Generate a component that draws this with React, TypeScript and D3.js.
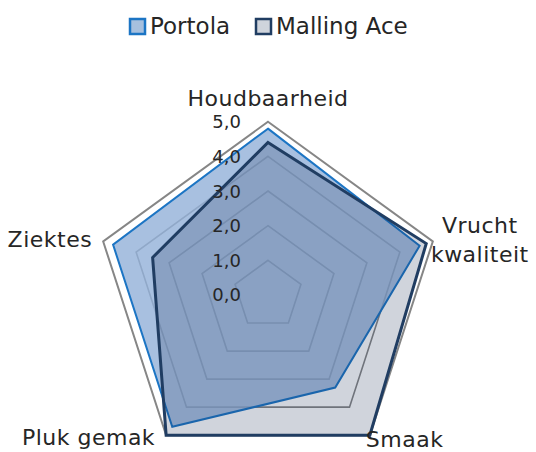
import { useEffect, useRef } from 'react';
import * as d3 from 'd3';

// categories (axes) clockwise from the top
const categories = ['Houdbaarheid', 'Vrucht kwaliteit', 'Smaak', 'Pluk gemak', 'Ziektes'];
const portola = [4.8, 4.6, 3.3, 4.7, 4.7];
const mallingAce = [4.4, 4.8, 5.0, 5.0, 3.5];
const tickValues = [0, 1, 2, 3, 4, 5];
const seriesNames = ['Portola', 'Malling Ace'];

const FONT = '"DejaVu Sans", sans-serif';

export default function App() {
  const ref = useRef<SVGSVGElement>(null);
  const width = 536;
  const height = 452;

  useEffect(() => {
    if (!ref.current) return;
    const svg = d3.select(ref.current);
    svg.selectAll('*').remove();

    const cx = 268;
    const cy = 295;
    const r = d3.scaleLinear().domain([0, 5]).range([0, 173.3]);
    const n = categories.length;
    const angle = (i: number) => (i * 2 * Math.PI) / n;
    const pt = (i: number, v: number) => [cx + r(v) * Math.sin(angle(i)), cy - r(v) * Math.cos(angle(i))];

    const g = svg.append('g').attr('transform', `translate(${cx},${cy})`);

    const radial = d3
      .lineRadial<number>()
      .angle((_, i) => angle(i))
      .radius((d) => r(d))
      .curve(d3.curveLinearClosed);

    // grid pentagons (value 1..5)
    tickValues
      .filter((t) => t > 0)
      .forEach((t) => {
        g.append('path')
          .attr('d', radial(categories.map(() => t)))
          .attr('fill', 'none')
          .attr('stroke', '#868686')
          .attr('stroke-width', t === 5 ? 2 : 1.6);
      });

    // series
    g.append('path')
      .attr('d', radial(portola))
      .attr('fill', '#92b0d8')
      .attr('fill-opacity', 0.8)
      .attr('stroke', '#1c75c4')
      .attr('stroke-width', 2)
      .attr('stroke-linejoin', 'miter');

    g.append('path')
      .attr('d', radial(mallingAce))
      .attr('fill', '#142850')
      .attr('fill-opacity', 0.2)
      .attr('stroke', '#203d62')
      .attr('stroke-width', 3)
      .attr('stroke-linejoin', 'miter');

    // tick labels along the top axis
    tickValues.forEach((t) => {
      svg
        .append('text')
        .attr('x', cx - 27)
        .attr('y', cy - r(t))
        .attr('dy', '0.36em')
        .attr('text-anchor', 'end')
        .attr('font-family', FONT)
        .attr('font-size', 18)
        .attr('fill', '#262626')
        .text(t.toFixed(1).replace('.', ','));
    });

    // category labels
    const labelPos = [
      { dx: 0, dy: -16, anchor: 'middle' },
      { dx: 47, dy: -8, anchor: 'middle' },
      { dx: -4, dy: 12, anchor: 'start' },
      { dx: -11, dy: 10, anchor: 'end' },
      { dx: -11, dy: 6, anchor: 'end' },
    ];
    categories.forEach((c, i) => {
      const [x, y] = pt(i, 5);
      const p = labelPos[i];
      const words = i === 1 ? c.split(' ') : [c];
      const text = svg
        .append('text')
        .attr('x', x + p.dx)
        .attr('y', y + p.dy)
        .attr('text-anchor', p.anchor)
        .attr('font-family', FONT)
        .attr('font-size', 22)
        .attr('letter-spacing', 0.5)
        .attr('fill', '#262626');
      words.forEach((w, k) => {
        text
          .append('tspan')
          .attr('x', x + p.dx)
          .attr('dy', k === 0 ? 0 : 29)
          .text(w);
      });
    });

    // legend
    const legendStyles = [
      { fill: '#a7c0de', stroke: '#1c75c4' },
      { fill: '#cfd4dc', stroke: '#203d62' },
    ];
    const legendX = [130, 256];
    seriesNames.forEach((s, i) => {
      svg
        .append('rect')
        .attr('x', legendX[i])
        .attr('y', 19)
        .attr('width', 15)
        .attr('height', 15)
        .attr('fill', legendStyles[i].fill)
        .attr('stroke', legendStyles[i].stroke)
        .attr('stroke-width', 2.5);
      svg
        .append('text')
        .attr('x', legendX[i] + 20)
        .attr('y', 34)
        .attr('font-family', FONT)
        .attr('font-size', 23)
        .attr('fill', '#262626')
        .text(s);
    });
  }, []);

  return (
    <svg
      ref={ref}
      width={width}
      height={height}
      style={{ position: 'absolute', left: 0, top: 0, background: '#fff' }}
    />
  );
}
